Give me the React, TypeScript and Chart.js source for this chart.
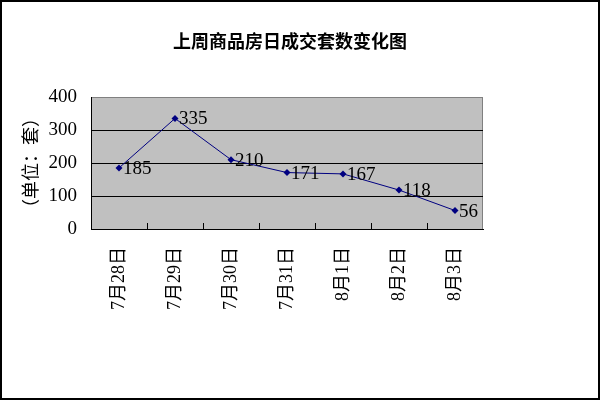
import { useEffect, useRef } from "react"
import { Chart, registerables } from "chart.js"

Chart.register(...registerables)

const days = ["7月28日", "7月29日", "7月30日", "7月31日", "8月1日", "8月2日", "8月3日"]
const deals = [185, 335, 210, 171, 167, 118, 56]
const yTicks = [0, 100, 200, 300, 400]

const chartTitle = "上周商品房日成交套数变化图"
const yTitle = "（单位：套）"

const serif = "'Liberation Serif', 'Noto Sans CJK SC', serif"

// background, outer frame, title, inside x ticks and value labels
const decorPlugin = {
  id: "decor",
  beforeDraw(chart: Chart) {
    const { ctx, chartArea } = chart
    ctx.save()
    ctx.fillStyle = "#ffffff"
    ctx.fillRect(0, 0, chart.width, chart.height)
    ctx.fillStyle = "#c0c0c0"
    ctx.fillRect(chartArea.left, chartArea.top, chartArea.right - chartArea.left, chartArea.bottom - chartArea.top)
    ctx.strokeStyle = "#808080"
    ctx.lineWidth = 1
    ctx.strokeRect(chartArea.left + 0.5, chartArea.top + 0.5, chartArea.right - chartArea.left - 1, chartArea.bottom - chartArea.top)
    ctx.strokeStyle = "#000000"
    ctx.lineWidth = 2
    ctx.strokeRect(1, 1, chart.width - 2, chart.height - 2)
    ctx.fillStyle = "#000000"
    ctx.font = "bold 18px 'Noto Sans CJK SC', sans-serif"
    ctx.textAlign = "center"
    ctx.textBaseline = "middle"
    ctx.fillText(chartTitle, 290, 41)
    ctx.restore()
  },
  afterDatasetsDraw(chart: Chart) {
    const { ctx, chartArea } = chart
    const x = chart.scales.x
    ctx.save()
    ctx.strokeStyle = "#000000"
    ctx.lineWidth = 1
    for (let i = 1; i < days.length; i++) {
      const px = Math.round((x.getPixelForValue(i - 1) + x.getPixelForValue(i)) / 2) + 0.5
      ctx.beginPath()
      ctx.moveTo(px, chartArea.bottom)
      ctx.lineTo(px, chartArea.bottom - 6)
      ctx.stroke()
    }
    const meta = chart.getDatasetMeta(0)
    ctx.fillStyle = "#000000"
    ctx.font = "19px " + serif
    ctx.textAlign = "left"
    ctx.textBaseline = "middle"
    meta.data.forEach((pt, i) => {
      ctx.fillText(String(deals[i]), pt.x + 4, pt.y + 1)
    })
    ctx.restore()
  },
}

export default function App() {
  const chartRef = useRef<HTMLCanvasElement>(null)
  const chartInstance = useRef<Chart | null>(null)

  useEffect(() => {
    if (!chartRef.current) return
    const ctx = chartRef.current.getContext("2d")
    if (!ctx) return

    if (chartInstance.current) {
      chartInstance.current.destroy()
    }

    chartInstance.current = new Chart(ctx, {
      type: "line",
      data: {
        labels: days,
        datasets: [
          {
            label: "成交套数",
            data: deals,
            borderColor: "#000080",
            backgroundColor: "#000080",
            borderWidth: 1,
            pointStyle: "rectRot",
            pointRadius: 3.5,
            pointBorderWidth: 0,
            tension: 0,
            fill: false,
          },
        ],
      },
      options: {
        responsive: false,
        animation: false,
        layout: {
          padding: { top: 97, right: 117, left: 0, bottom: 0 },
        },
        plugins: {
          legend: { display: false },
          title: { display: false },
          tooltip: { enabled: false },
        },
        scales: {
          x: {
            offset: true,
            grid: { display: false },
            border: { display: true, color: "#000000", width: 1 },
            ticks: {
              autoSkip: false,
              minRotation: 90,
              maxRotation: 90,
              padding: 10,
              color: "#000000",
              font: { family: serif, size: 18 },
            },
            afterFit(scale) {
              scale.height = 171
            },
          },
          y: {
            min: 0,
            max: 400,
            afterBuildTicks(scale) {
              scale.ticks = yTicks.map((v) => ({ value: v }))
            },
            grid: {
              drawTicks: false,
              color: (c) => (c.tick && c.tick.value === 400 ? "#808080" : "#000000"),
              lineWidth: 1,
            },
            border: { display: true, color: "#000000", width: 1 },
            ticks: {
              padding: 14,
              color: "#000000",
              font: { family: serif, size: 19 },
            },
            title: {
              display: true,
              text: yTitle,
              color: "#000000",
              padding: { top: 19, bottom: 0 },
              font: { family: "'Noto Sans CJK SC', sans-serif", size: 18 },
            },
            afterFit(scale) {
              scale.width = 91
            },
          },
        },
      },
      plugins: [decorPlugin],
    })

    return () => {
      if (chartInstance.current) {
        chartInstance.current.destroy()
        chartInstance.current = null
      }
    }
  }, [])

  return (
    <div style={{ position: "absolute", left: 0, top: 0, width: 600, height: 400 }}>
      <canvas ref={chartRef} width={600} height={400} style={{ width: 600, height: 400 }} />
    </div>
  )
}
